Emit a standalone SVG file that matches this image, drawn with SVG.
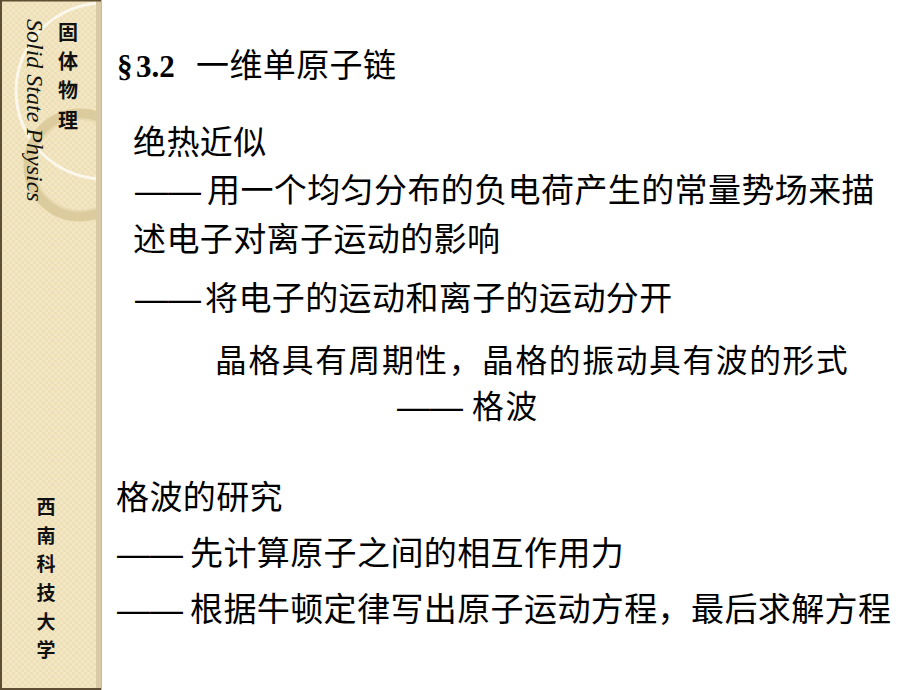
<svg xmlns="http://www.w3.org/2000/svg" width="920" height="690" viewBox="0 0 920 690">
<defs>
<pattern id="chk" width="6" height="6" patternUnits="userSpaceOnUse">
<rect width="6" height="6" fill="#F2E6C3"/>
<rect width="3" height="3" fill="#EDDFB8"/>
<rect x="3" y="3" width="3" height="3" fill="#EDDFB8"/>
</pattern>
<clipPath id="side"><rect x="0" y="0" width="97" height="690"/></clipPath>
<style>
.t{font-family:"Noto Sans CJK SC","Liberation Sans",sans-serif;font-size:33px;letter-spacing:0.4px;fill:#000}
.w{font-family:"Noto Sans CJK SC","Liberation Sans",sans-serif;font-size:31.7px;letter-spacing:1.7px;fill:#000}
.s{font-family:"Noto Sans CJK SC",sans-serif;font-size:20px;font-weight:bold;fill:#111;text-anchor:middle}
.u{font-family:"Noto Sans CJK SC",sans-serif;font-size:19px;font-weight:bold;fill:#111;text-anchor:middle}
.d{font-family:"Liberation Sans","Noto Sans CJK SC",sans-serif;font-size:33px;fill:#000}
</style>
</defs>
<rect width="920" height="690" fill="#FFFFFF"/>
<g id="sidebar">
<rect x="0" y="0" width="101" height="690" fill="url(#chk)"/>
<g clip-path="url(#side)">
<circle cx="104" cy="91" r="88" fill="none" stroke="#FBF7EA" stroke-width="3"/>
<circle cx="80" cy="165" r="51" fill="none" stroke="#DCCB9C" stroke-width="11"/>
<circle cx="80" cy="165" r="46" fill="none" stroke="#E6D8B0" stroke-width="2"/>
</g>
<rect x="96" y="0" width="5" height="690" fill="#D8CBA5"/>
<rect x="101" y="0" width="1" height="690" fill="#C9BC96"/>
<rect x="0" y="0" width="2" height="690" fill="#5E4E33"/>
<rect x="0" y="0" width="101" height="1.5" fill="#5E4E33"/>
<rect x="0" y="688" width="101" height="2" fill="#5E4E33"/>
<text transform="translate(27,19) rotate(90)" font-family="'Liberation Serif',serif" font-style="italic" font-size="24" fill="#111">Solid State Physics</text>
<text class="s" x="68" y="40">固</text>
<text class="s" x="68" y="69">体</text>
<text class="s" x="68" y="98">物</text>
<text class="s" x="68" y="128">理</text>
<text class="u" x="46" y="514">西</text>
<text class="u" x="46" y="543">南</text>
<text class="u" x="46" y="571">科</text>
<text class="u" x="46" y="600">技</text>
<text class="u" x="46" y="629">大</text>
<text class="u" x="46" y="657">学</text>
</g>
<g id="title">
<text x="117" y="77" font-family="'Liberation Serif',serif" font-weight="bold" font-size="31" fill="#000">§</text>
<text x="136" y="77" font-family="'Liberation Serif',serif" font-weight="bold" font-size="31" fill="#000">3.2</text>
<text class="t" x="196" y="77">一维单原子链</text>
</g>
<g id="adiabatic">
<text class="t" x="133" y="154">绝热近似</text>
<text class="d" x="135" y="202">——</text>
<text class="t" x="207" y="202">用一个均匀分布的负电荷产生的常量势场来描</text>
<text class="t" x="133" y="251">述电子对离子运动的影响</text>
<text class="d" x="135" y="310">——</text>
<text class="t" x="205" y="310">将电子的运动和离子的运动分开</text>
</g>
<g id="latticewave">
<text class="w" x="215" y="372">晶格具有周期性，晶格的振动具有波的形式</text>
<text class="d" x="397" y="418">——</text>
<text class="w" x="472" y="418">格波</text>
</g>
<g id="study">
<text class="t" x="116" y="509">格波的研究</text>
<text class="d" x="117" y="565">——</text>
<text class="t" x="190" y="565">先计算原子之间的相互作用力</text>
<text class="d" x="117" y="621">——</text>
<text class="t" x="190" y="621">根据牛顿定律写出原子运动方程，最后求解方程</text>
</g>
</svg>
